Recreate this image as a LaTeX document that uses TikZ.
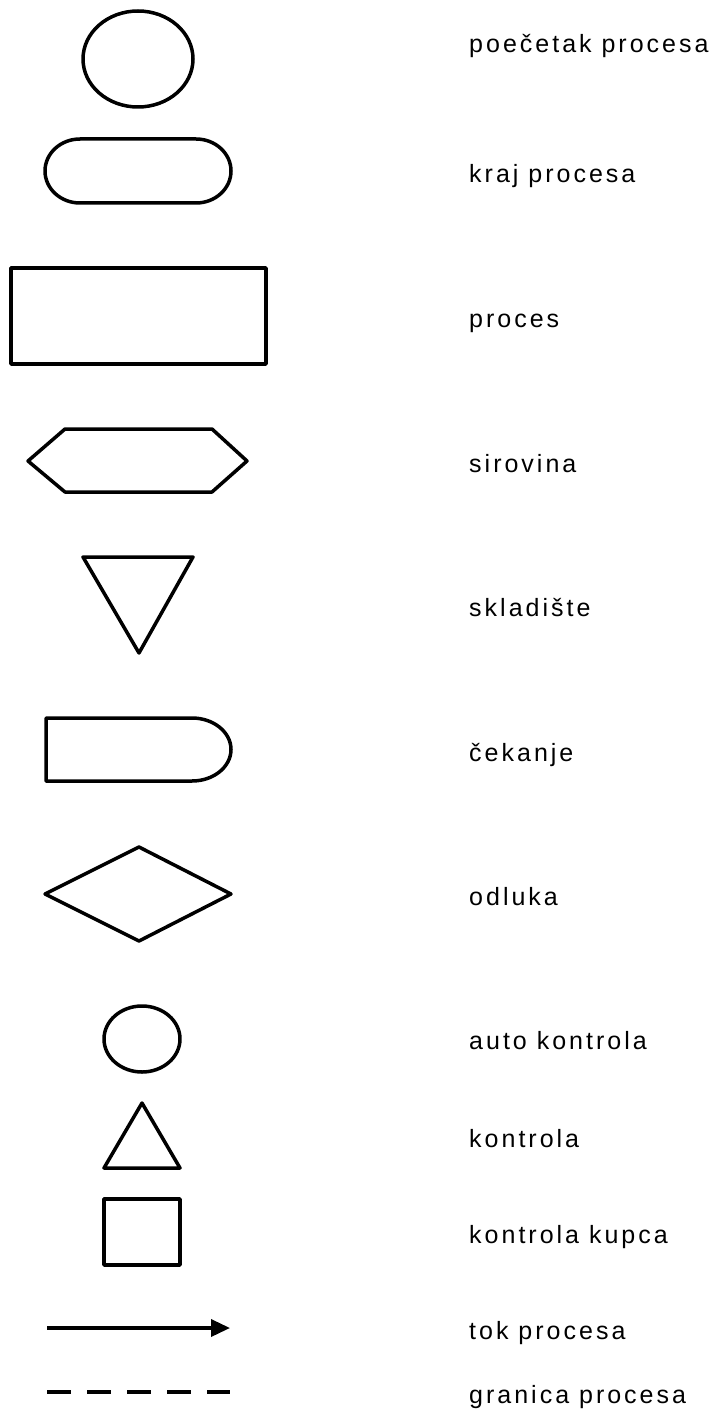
\documentclass[tikz,border=0pt]{standalone}
\usepackage{fontspec}
\setmainfont[LetterSpace=12]{Liberation Sans}
\usetikzlibrary{arrows.meta}
\tikzset{
  shp/.style={draw=black, line width=3.5bp, line join=round},
  lbl/.style={anchor=base west, inner sep=0pt, font=\fontsize{25bp}{30bp}\selectfont},
}
\begin{document}
\begin{tikzpicture}[x=1bp,y=-1bp]
\fill[white] (0,0) rectangle (718,1414);
\useasboundingbox (0,0) rectangle (718,1414);
% start ellipse
\draw[shp] (138,59) ellipse [x radius=55, y radius=48];
% terminator
\draw[shp] (80,139) -- (196,139) arc[start angle=-90, end angle=90, x radius=35, y radius=32]
  -- (80,203) arc[start angle=90, end angle=270, x radius=35, y radius=32] -- cycle;
% process
\draw[shp] (11,268) rectangle (266,364);
% hexagon
\draw[shp] (28,461) -- (65,429) -- (212,429) -- (247,461) -- (212,492) -- (65,492) -- cycle;
% inverted triangle
\draw[shp] (83,557) -- (193,557) -- (139,653) -- cycle;
% delay
\draw[shp] (46,718) -- (192,718) arc[start angle=-90, end angle=90, x radius=39, y radius=31.5] -- (46,781) -- cycle;
% diamond
\draw[shp] (139,847) -- (231,894) -- (139,941) -- (45,894) -- cycle;
% small ellipse
\draw[shp] (142,1039) ellipse [x radius=38, y radius=33];
% triangle
\draw[shp] (142,1103) -- (180,1168) -- (104,1168) -- cycle;
% square
\draw[shp] (104,1199) rectangle (180,1265);
% arrow
\coordinate (a1) at (47,1328);
\coordinate (a2) at (230,1328);
\draw[line width=3.5bp, -{Triangle[length=19bp,width=17bp]}] (a1) -- (a2);
% dashed
\coordinate (d1) at (47,1392);
\coordinate (d2) at (230,1392);
\draw[line width=3.5bp, dash pattern=on 24bp off 16bp] (d1) -- (d2);
% labels
\node[lbl] (t1) at (469,53) {poečetak procesa};
\node[lbl] (t2) at (469,183) {kraj procesa};
\node[lbl] (t3) at (469,327) {proces};
\node[lbl] (t4) at (469,472) {sirovina};
\node[lbl] (t5) at (469,616) {skladište};
\node[lbl] (t6) at (469,761) {čekanje};
\node[lbl] (t7) at (469,905) {odluka};
\node[lbl] (t8) at (469,1049) {auto kontrola};
\node[lbl] (t9) at (469,1147) {kontrola};
\node[lbl] (t10) at (469,1243) {kontrola kupca};
\node[lbl] (t11) at (469,1339) {tok procesa};
\node[lbl] (t12) at (469,1403) {granica procesa};
\end{tikzpicture}
\end{document}
